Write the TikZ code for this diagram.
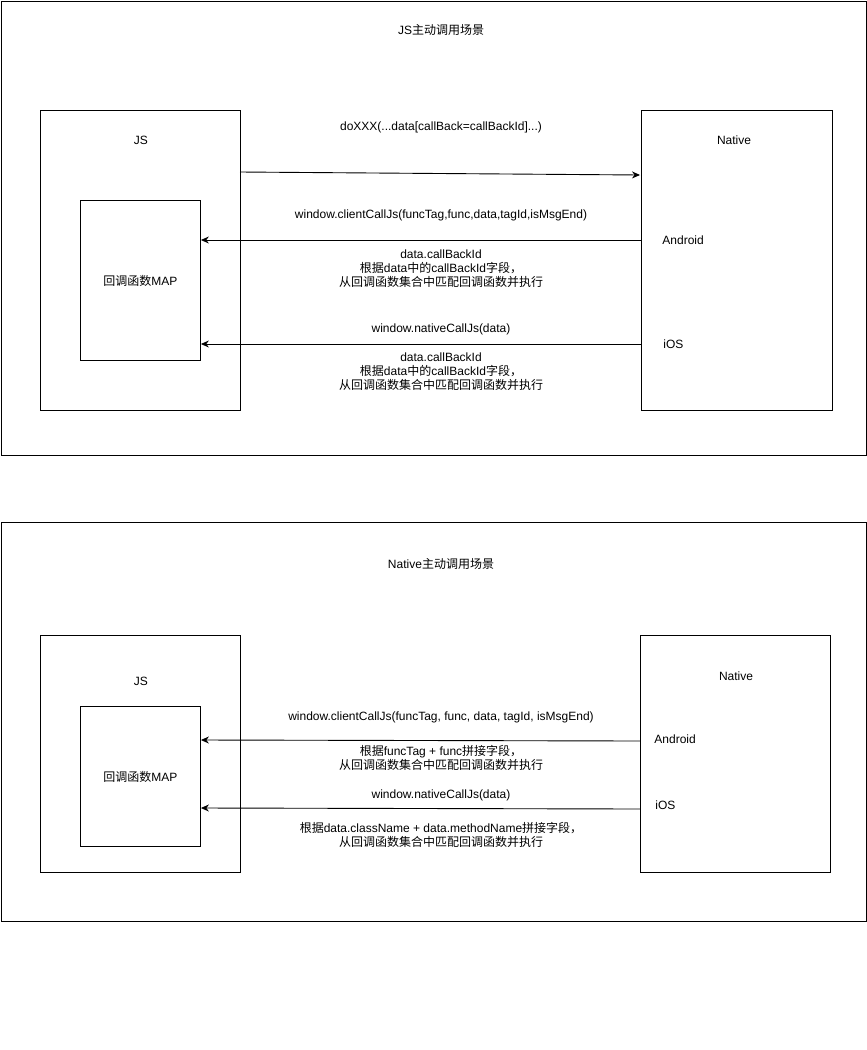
\documentclass[tikz,border=0pt]{standalone}
\usepackage{fontspec}
\setmainfont{Liberation Sans}
\newfontfamily\cjk{Noto Sans CJK SC}
\newcommand{\zh}[1]{{\cjk #1}}
\usetikzlibrary{arrows.meta,positioning}
\begin{document}
\begin{tikzpicture}[x=1pt,y=-1pt,line width=0.9pt,
    font=\fontsize{12}{14}\selectfont,
    frame/.style={draw,anchor=north west,inner sep=0pt},
    lbl/.style={inner sep=0pt,align=center},
    arr/.style={-{Stealth[length=8pt,width=7pt]}}]
    \useasboundingbox (0,0) rectangle (867,1050);
    % JS calls native
    \node[frame,minimum width=865pt,minimum height=454pt] (scene1) at (0.5,0.5) {};
    \node[lbl] (title1) at (441,30) {JS\zh{主动调用场景}};
    \node[frame,minimum width=200pt,minimum height=300pt] (js1) at (40,110) {};
    \node[lbl] (jsname1) at (141,140) {JS};
    \node[frame,minimum width=120pt,minimum height=160pt] (map1) at (80,200) {};
    \node[lbl] at (map1.center) {\zh{回调函数}MAP};
    \node[frame,minimum width=191pt,minimum height=300pt] (native1) at (641,110) {};
    \node[lbl] (nativename1) at (734,140) {Native};
    \node[lbl,anchor=west] (android1) at (662,240) {Android};
    \node[lbl,anchor=west] (ios1) at (663,344) {iOS};
    \coordinate (start1) at (240,172);
    \coordinate (end1) at (640,175);
    \draw[arr] (start1) -- (end1);
    \node[lbl] (call1) at (441,127) {doXXX(...data[callBack=callBackId]...)};
    \draw[arr] (native1.west |- android1) -- (map1.east |- android1);
    \node[lbl] (client1) at (441,215) {window.clientCallJs(funcTag,func,data,tagId,isMsgEnd)};
    \node[lbl] (match1) at (441,269) {data.callBackId\\\zh{根据}data\zh{中的}callBackId\zh{字段，}\\\zh{从回调函数集合中匹配回调函数并执行}};
    \draw[arr] (native1.west |- ios1) -- (map1.east |- ios1);
    \node[lbl] (nativecall1) at (441,329) {window.nativeCallJs(data)};
    \node[lbl] (match2) at (441,372) {data.callBackId\\\zh{根据}data\zh{中的}callBackId\zh{字段，}\\\zh{从回调函数集合中匹配回调函数并执行}};
    % native calls JS
    \node[frame,minimum width=865pt,minimum height=399pt] (scene2) at (0.5,522) {};
    \node[lbl] (title2) at (441,564) {Native\zh{主动调用场景}};
    \node[frame,minimum width=200pt,minimum height=237pt] (js2) at (40,635) {};
    \node[lbl] (jsname2) at (141,681) {JS};
    \node[frame,minimum width=120pt,minimum height=140pt] (map2) at (80,706) {};
    \node[lbl] at (map2.center) {\zh{回调函数}MAP};
    \node[frame,minimum width=190pt,minimum height=237pt] (native2) at (640,635) {};
    \node[lbl] (nativename2) at (736,676) {Native};
    \node[lbl,anchor=west] (android2) at (654,739) {Android};
    \node[lbl,anchor=west] (ios2) at (655,805) {iOS};
    \draw[arr] (native2.west |- 0,741) -- (map2.east |- 0,740);
    \node[lbl] (client2) at (441,717) {window.clientCallJs(funcTag, func, data, tagId, isMsgEnd)};
    \node[lbl] (match3) at (441,758) {\zh{根据}funcTag + func\zh{拼接字段，}\\\zh{从回调函数集合中匹配回调函数并执行}};
    \draw[arr] (native2.west |- 0,809) -- (map2.east |- 0,808);
    \node[lbl] (nativecall2) at (441,795) {window.nativeCallJs(data)};
    \node[lbl] (match4) at (441,835) {\zh{根据}data.className + data.methodName\zh{拼接字段，}\\\zh{从回调函数集合中匹配回调函数并执行}};
\end{tikzpicture}
\end{document}
